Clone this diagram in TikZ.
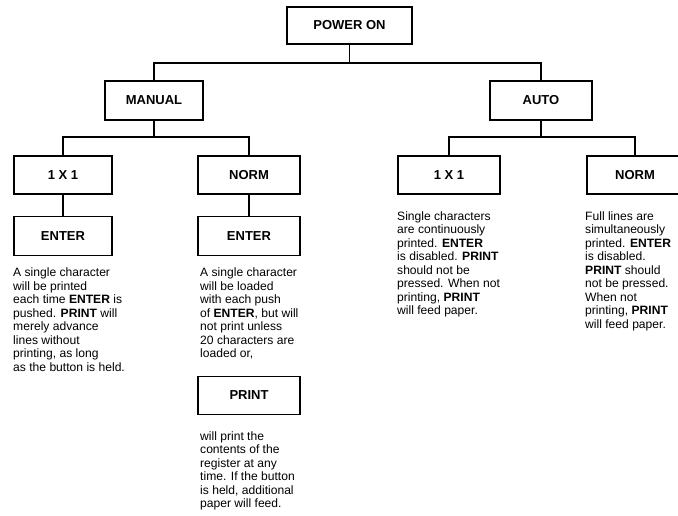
\documentclass[tikz,border=0pt]{standalone}
\usepackage{fontspec}
\setmainfont{Liberation Sans}
\begin{document}
\begin{tikzpicture}[x=1pt,y=-1pt,
  box/.style={draw, line width=1.2pt, minimum height=38pt, inner sep=0pt,
    font=\fontsize{13}{15}\selectfont\bfseries},
  desc/.style={anchor=north west, inner sep=0pt, align=left,
    font=\fontsize{12.1}{13.5}\selectfont},
  conn/.style={line width=1.2pt}]
\useasboundingbox (0,0) rectangle (678,516);
% boxes
\node[box, minimum width=125pt, minimum height=37pt] (power) at (349.5,25.5) {POWER ON};
\node[box, minimum width=98pt, minimum height=39pt] (manual) at (154,100.5) {MANUAL};
\node[box, minimum width=102pt, minimum height=39pt] (auto) at (541,100.5) {AUTO};
\node[box, minimum width=98pt] (l11) at (63,175) {1 X 1};
\node[box, minimum width=102pt] (lnorm) at (249,175) {NORM};
\node[box, minimum width=98pt, minimum height=39pt] (lenter1) at (63,236) {ENTER};
\node[box, minimum width=102pt, minimum height=39pt] (lenter2) at (249,236) {ENTER};
\node[box, minimum width=102pt, minimum height=38pt] (print) at (249,395.5) {PRINT};
\node[box, minimum width=102pt] (r11) at (449,175) {1 X 1};
\node[box, minimum width=96pt] (rnorm) at (635,175) {NORM};
% connectors
\coordinate (j0) at (349.5,63);
\coordinate (j1) at (154,137);
\coordinate (j2) at (541,137);
\draw[conn] (power.south) -- (j0);
\draw[conn] (manual.north) |- (j0) -| (auto.north);
\draw[conn] (manual.south) -- (j1);
\draw[conn] (l11.north) |- (j1) -| (lnorm.north);
\draw[conn] (auto.south) -- (j2);
\draw[conn] (r11.north) |- (j2) -| (rnorm.north);
\draw[conn] (l11) -- (lenter1);
\draw[conn] (lnorm) -- (lenter2);
% descriptions
\node[desc] (ltext) at (13,267.8) {A single character\\
will be printed\\
each time \textbf{ENTER} is\\
pushed. \textbf{PRINT} will\\
merely advance\\
lines without\\
printing, as long\\
as the button is held.};
\node[desc] (mtext) at (200,267.8) {A single character\\
will be loaded\\
with each push\\
of \textbf{ENTER}, but will\\
not print unless\\
20 characters are\\
loaded or,};
\node[desc] (ptext) at (200,431.5) {will print the\\
contents of the\\
register at any\\
time. If the button\\
is held, additional\\
paper will feed.};
\node[desc] (r1text) at (397,211.5) {Single characters\\
are continuously\\
printed. \textbf{ENTER}\\
is disabled. \textbf{PRINT}\\
should not be\\
pressed. When not\\
printing, \textbf{PRINT}\\
will feed paper.};
\node[desc] (r2text) at (585,211.5) {Full lines are\\
simultaneously\\
printed. \textbf{ENTER}\\
is disabled.\\
\textbf{PRINT} should\\
not be pressed.\\
When not\\
printing, \textbf{PRINT}\\
will feed paper.};
\end{tikzpicture}
\end{document}
